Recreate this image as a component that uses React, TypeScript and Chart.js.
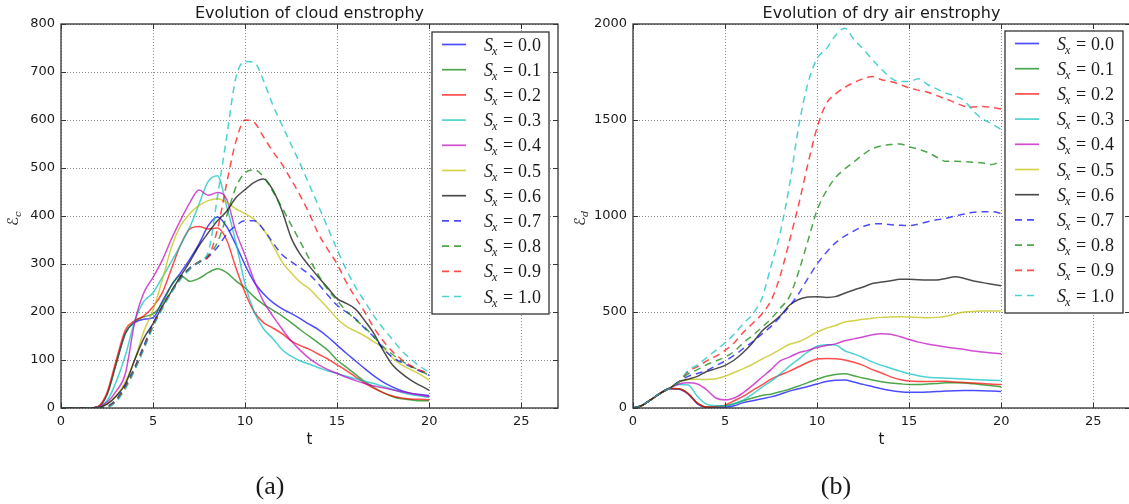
import React, { useEffect, useRef } from 'react';
import { Chart, registerables } from 'chart.js';

Chart.register(...registerables);

// Sample times (t = 0 … 20, step 0.5)
const times = [
  0, 0.5, 1, 1.5, 2, 2.5, 3, 3.5, 4, 4.5, 5, 5.5, 6, 6.5, 7, 7.5, 8, 8.5, 9, 9.5, 10,
  10.5, 11, 11.5, 12, 12.5, 13, 13.5, 14, 14.5, 15, 15.5, 16, 16.5, 17, 17.5, 18, 18.5, 19, 19.5, 20,
];

const xTickValues = [0, 5, 10, 15, 20, 25];
const cloudTickValues = [0, 100, 200, 300, 400, 500, 600, 700, 800];
const dryTickValues = [0, 500, 1000, 1500, 2000];

const shearValues = ['0.0', '0.1', '0.2', '0.3', '0.4', '0.5', '0.6', '0.7', '0.8', '0.9', '1.0'];

const lineColors = [
  'rgba(0,0,255,0.7)',
  'rgba(0,128,0,0.7)',
  'rgba(255,0,0,0.7)',
  'rgba(0,191,191,0.7)',
  'rgba(191,0,191,0.7)',
  'rgba(191,191,0,0.7)',
  'rgba(0,0,0,0.7)',
  'rgba(0,0,255,0.7)',
  'rgba(0,128,0,0.7)',
  'rgba(255,0,0,0.7)',
  'rgba(0,191,191,0.7)',
];

// Cloud enstrophy, one array per shear value
const cloudS00 = [0, 0, 0, 0, 2, 28, 93, 156, 178, 185, 188, 222, 256, 282, 310, 342, 380, 398, 378, 340, 298, 262, 238, 220, 207, 197, 186, 174, 163, 148, 131, 114, 98, 82, 67, 54, 44, 36, 31, 28, 26];
const cloudS01 = [0, 0, 0, 0, 2, 28, 92, 156, 180, 190, 196, 218, 255, 276, 264, 270, 282, 290, 282, 265, 250, 231, 216, 204, 192, 178, 163, 149, 135, 120, 100, 85, 70, 55, 43, 32, 24, 19, 17, 15, 15];
const cloudS02 = [0, 0, 0, 0, 3, 32, 100, 163, 182, 192, 211, 240, 290, 340, 373, 378, 373, 375, 350, 292, 240, 200, 178, 167, 155, 140, 130, 122, 112, 102, 90, 78, 65, 52, 41, 32, 25, 21, 19, 18, 17];
const cloudS03 = [0, 0, 0, 0, 2, 15, 55, 110, 180, 222, 240, 272, 305, 340, 377, 425, 472, 484, 420, 345, 258, 200, 165, 145, 122, 108, 98, 91, 84, 77, 72, 66, 61, 56, 51, 45, 39, 33, 28, 25, 22];
const cloudS04 = [0, 0, 0, 0, 2, 12, 35, 72, 178, 240, 272, 308, 352, 392, 428, 454, 443, 449, 435, 368, 318, 265, 222, 192, 165, 140, 120, 103, 90, 80, 72, 64, 57, 51, 46, 42, 38, 34, 30, 27, 24];
const cloudS05 = [0, 0, 0, 0, 1, 8, 25, 55, 100, 160, 204, 266, 335, 380, 405, 422, 432, 436, 428, 415, 405, 393, 372, 340, 305, 282, 262, 248, 228, 208, 186, 170, 160, 150, 138, 125, 105, 90, 80, 70, 58];
const cloudS06 = [0, 0, 0, 0, 1, 8, 25, 50, 100, 145, 176, 211, 243, 275, 305, 338, 365, 390, 410, 438, 455, 470, 477, 455, 412, 355, 320, 295, 272, 250, 228, 218, 206, 182, 155, 120, 90, 72, 58, 47, 37];
const cloudS07 = [0, 0, 0, 0, 0, 3, 18, 48, 85, 130, 176, 212, 244, 272, 292, 303, 315, 335, 362, 380, 390, 390, 372, 345, 320, 305, 292, 278, 258, 235, 214, 200, 186, 166, 148, 124, 106, 95, 86, 77, 68];
const cloudS08 = [0, 0, 0, 0, 0, 2, 16, 45, 82, 127, 173, 210, 243, 271, 291, 305, 318, 345, 400, 460, 490, 496, 482, 452, 418, 382, 346, 310, 276, 246, 224, 202, 184, 168, 148, 128, 112, 98, 87, 78, 68];
const cloudS09 = [0, 0, 0, 0, 0, 2, 15, 43, 80, 125, 171, 209, 242, 270, 290, 305, 315, 372, 468, 555, 600, 595, 565, 535, 508, 476, 442, 404, 362, 330, 300, 262, 230, 200, 167, 140, 118, 101, 88, 79, 72];
const cloudS10 = [0, 0, 0, 0, 0, 1, 13, 40, 78, 122, 168, 206, 240, 268, 289, 305, 325, 440, 565, 688, 722, 720, 682, 632, 590, 549, 508, 464, 420, 375, 330, 288, 252, 222, 192, 166, 143, 120, 102, 87, 74];

// Dry air enstrophy, one array per shear value
const dryS00 = [0, 14, 45, 78, 100, 98, 72, 22, 3, 2, 4, 12, 28, 38, 48, 58, 72, 88, 100, 112, 125, 138, 145, 146, 135, 123, 112, 100, 91, 85, 82, 82, 83, 86, 88, 90, 91, 91, 90, 88, 86];
const dryS01 = [0, 14, 45, 78, 101, 100, 75, 25, 5, 6, 12, 22, 38, 52, 65, 72, 85, 98, 115, 132, 150, 165, 175, 178, 168, 156, 146, 137, 130, 126, 122, 122, 125, 128, 131, 131, 130, 126, 121, 116, 111];
const dryS02 = [0, 14, 45, 78, 102, 100, 75, 25, 5, 8, 15, 38, 62, 92, 120, 150, 172, 192, 215, 238, 255, 258, 256, 250, 238, 222, 200, 182, 162, 148, 140, 138, 138, 139, 139, 136, 133, 130, 127, 124, 122];
const dryS03 = [0, 14, 45, 78, 104, 122, 120, 60, 20, 12, 12, 22, 42, 72, 108, 140, 178, 218, 255, 292, 322, 330, 328, 298, 282, 262, 240, 222, 207, 192, 178, 168, 160, 157, 155, 153, 151, 148, 146, 144, 143];
const dryS04 = [0, 14, 45, 78, 104, 125, 132, 125, 95, 52, 42, 52, 80, 118, 160, 200, 245, 265, 288, 300, 315, 326, 334, 350, 360, 370, 382, 387, 384, 372, 357, 343, 333, 325, 318, 311, 305, 297, 292, 287, 282];
const dryS05 = [0, 14, 45, 78, 104, 135, 148, 150, 148, 152, 165, 185, 205, 228, 255, 278, 305, 332, 345, 368, 395, 415, 430, 448, 455, 462, 468, 472, 474, 475, 474, 472, 470, 472, 478, 490, 500, 503, 505, 505, 505];
const dryS06 = [0, 14, 45, 78, 104, 137, 150, 165, 190, 205, 222, 250, 290, 340, 400, 440, 480, 535, 565, 578, 580, 576, 580, 598, 615, 630, 648, 656, 663, 670, 670, 668, 667, 667, 675, 683, 675, 662, 653, 645, 637];
const dryS07 = [0, 14, 45, 78, 104, 137, 165, 180, 195, 220, 245, 275, 310, 345, 385, 425, 475, 530, 595, 675, 750, 810, 860, 895, 922, 945, 958, 960, 955, 952, 950, 958, 970, 980, 988, 1000, 1010, 1019, 1022, 1022, 1014];
const dryS08 = [0, 14, 45, 78, 104, 137, 178, 200, 225, 245, 265, 295, 340, 378, 420, 465, 520, 580, 710, 870, 1030, 1130, 1200, 1245, 1282, 1320, 1350, 1365, 1372, 1375, 1361, 1348, 1332, 1306, 1285, 1285, 1283, 1280, 1276, 1268, 1285];
const dryS09 = [0, 14, 45, 78, 104, 137, 190, 215, 245, 270, 300, 340, 395, 440, 490, 560, 690, 870, 1060, 1270, 1460, 1585, 1635, 1670, 1695, 1715, 1726, 1710, 1700, 1685, 1667, 1655, 1645, 1627, 1610, 1590, 1572, 1568, 1570, 1565, 1557];
const dryS10 = [0, 14, 45, 78, 104, 137, 195, 225, 262, 300, 340, 385, 440, 490, 570, 740, 915, 1160, 1465, 1690, 1820, 1870, 1940, 1978, 1920, 1870, 1815, 1765, 1720, 1700, 1700, 1715, 1685, 1662, 1640, 1625, 1600, 1545, 1505, 1480, 1450];

const cloudSeries = [cloudS00, cloudS01, cloudS02, cloudS03, cloudS04, cloudS05, cloudS06, cloudS07, cloudS08, cloudS09, cloudS10];
const drySeries = [dryS00, dryS01, dryS02, dryS03, dryS04, dryS05, dryS06, dryS07, dryS08, dryS09, dryS10];

const AXIS_COLOR = '#333333';
const TEXT_COLOR = '#1a1a1a';
const DASH = [7, 5];
const LINE_WIDTH = 1.5;

type PanelSpec = {
  title: string;
  tag: string;
  tagX: number;
  yMax: number;
  yTicks: number[];
  yLabelSub: string;
  yLabelX: number;
  yAxisWidth: number;
  padRight: number;
  legendLeft: number;
  legendTop: number;
  legendWidth: number;
  legendHeight: number;
};

function buildDatasets(series: number[][]) {
  return series.map((vals, i) => ({
    label: 'S_x = ' + shearValues[i],
    data: vals.map((v, k) => ({ x: times[k], y: v })),
    borderColor: lineColors[i],
    borderWidth: LINE_WIDTH,
    borderDash: i >= 7 ? DASH : [],
    pointRadius: 0,
    fill: false,
    cubicInterpolationMode: 'monotone' as const,
    order: series.length - 1 - i,
  }));
}

function drawShearLabel(ctx: CanvasRenderingContext2D, x: number, cy: number, value: string) {
  const base = cy + 6;
  ctx.fillStyle = TEXT_COLOR;
  ctx.textAlign = 'left';
  ctx.textBaseline = 'alphabetic';
  ctx.font = 'italic 18px "Liberation Serif"';
  ctx.fillText('S', x, base);
  const sw = ctx.measureText('S').width;
  ctx.font = 'italic 12px "Liberation Serif"';
  ctx.fillText('x', x + sw - 1, base + 4);
  ctx.font = '18px "Liberation Serif"';
  ctx.fillText('=', x + 19, base);
  const [a, b] = value.split('.');
  ctx.fillText(a + '.', x + 34, base);
  ctx.fillText(b, x + 48, base);
}

function panelDecor(spec: PanelSpec) {
  return {
    id: 'panelDecor',
    afterDatasetsDraw(chart: Chart) {
      const { ctx, chartArea: a } = chart;
      const xs = chart.scales.x;
      const ys = chart.scales.y;
      ctx.save();

      // axes frame
      ctx.strokeStyle = AXIS_COLOR;
      ctx.lineWidth = 1.3;
      ctx.setLineDash([]);
      ctx.strokeRect(a.left, a.top, a.right - a.left, a.bottom - a.top);

      // inward tick marks on all four sides
      ctx.lineWidth = 1;
      ctx.beginPath();
      for (const v of xTickValues) {
        const px = Math.round(xs.getPixelForValue(v)) + 0.5;
        ctx.moveTo(px, a.bottom);
        ctx.lineTo(px, a.bottom - 5);
        ctx.moveTo(px, a.top);
        ctx.lineTo(px, a.top + 5);
      }
      for (const v of spec.yTicks) {
        const py = Math.round(ys.getPixelForValue(v)) + 0.5;
        ctx.moveTo(a.left, py);
        ctx.lineTo(a.left + 5, py);
        ctx.moveTo(a.right, py);
        ctx.lineTo(a.right - 5, py);
      }
      ctx.stroke();

      // legend box
      const L = spec.legendLeft;
      const T = spec.legendTop;
      ctx.fillStyle = '#ffffff';
      ctx.fillRect(L, T, spec.legendWidth, spec.legendHeight);
      ctx.strokeStyle = AXIS_COLOR;
      ctx.lineWidth = 1.3;
      ctx.strokeRect(L, T, spec.legendWidth, spec.legendHeight);
      chart.data.datasets.forEach((ds: any, i: number) => {
        const cy = T + 12.5 + 25.2 * i;
        ctx.strokeStyle = ds.borderColor;
        ctx.lineWidth = 1.7;
        ctx.setLineDash(ds.borderDash || []);
        ctx.beginPath();
        ctx.moveTo(L + 10, cy);
        ctx.lineTo(L + 34, cy);
        ctx.stroke();
        ctx.setLineDash([]);
        drawShearLabel(ctx, L + 52, cy, shearValues[i]);
      });

      // title
      ctx.fillStyle = TEXT_COLOR;
      ctx.font = '16px "DejaVu Sans"';
      ctx.textAlign = 'center';
      ctx.textBaseline = 'alphabetic';
      const cx = (a.left + a.right) / 2;
      ctx.fillText(spec.title, cx, 18);

      // x label
      ctx.font = '15px "DejaVu Sans"';
      ctx.fillText('t', cx, 444);

      // y label: script E with subscript, rotated
      ctx.save();
      ctx.translate(spec.yLabelX, (a.top + a.bottom) / 2 + 4);
      ctx.rotate(-Math.PI / 2);
      ctx.textAlign = 'left';
      ctx.font = '15px "DejaVu Serif", "DejaVu Sans"';
      ctx.fillText('\u2130', -6, 0);
      const ew = ctx.measureText('\u2130').width;
      ctx.font = 'italic 10px "DejaVu Serif"';
      ctx.fillText(spec.yLabelSub, -6 + ew, 3);
      ctx.restore();

      // panel tag
      ctx.font = '26px "Liberation Serif"';
      ctx.textAlign = 'center';
      ctx.fillText(spec.tag, spec.tagX, 494);

      ctx.restore();
    },
  };
}

function makeChart(canvas: HTMLCanvasElement, series: number[][], spec: PanelSpec) {
  const gridStyle = {
    color: 'rgba(0,0,0,0.45)',
    lineWidth: 1,
    drawTicks: false,
  };
  const tickFont = { family: 'DejaVu Sans', size: 13 };
  return new Chart(canvas, {
    type: 'line',
    data: { datasets: buildDatasets(series) as any },
    options: {
      responsive: false,
      animation: false,
      events: [],
      layout: { padding: { left: 0, right: spec.padRight, top: 24, bottom: 0 } },
      plugins: {
        legend: { display: false },
        title: { display: false },
        tooltip: { enabled: false },
      },
      scales: {
        x: {
          type: 'linear',
          min: 0,
          max: 27,
          afterBuildTicks: (s: any) => {
            s.ticks = xTickValues.map((value) => ({ value }));
          },
          afterFit: (s: any) => {
            s.height = 96;
          },
          grid: gridStyle,
          border: { display: false, dash: [1, 2] },
          ticks: {
            color: TEXT_COLOR,
            font: tickFont,
            padding: 6,
            maxRotation: 0,
            callback: (v: any) => String(v),
          },
        },
        y: {
          type: 'linear',
          min: 0,
          max: spec.yMax,
          afterBuildTicks: (s: any) => {
            s.ticks = spec.yTicks.map((value) => ({ value }));
          },
          afterFit: (s: any) => {
            s.width = spec.yAxisWidth;
          },
          grid: gridStyle,
          border: { display: false, dash: [1, 2] },
          ticks: {
            color: TEXT_COLOR,
            font: tickFont,
            padding: 6,
            callback: (v: any) => String(v),
          },
        },
      },
    },
    plugins: [panelDecor(spec)],
  });
}

const cloudSpec: PanelSpec = {
  title: 'Evolution of cloud enstrophy',
  tag: '(a)',
  tagX: 270,
  yMax: 800,
  yTicks: cloudTickValues,
  yLabelSub: 'c',
  yLabelX: 18,
  yAxisWidth: 61,
  padRight: 6,
  legendLeft: 432,
  legendTop: 32,
  legendWidth: 117,
  legendHeight: 282,
};

const drySpec: PanelSpec = {
  title: 'Evolution of dry air enstrophy',
  tag: '(b)',
  tagX: 270,
  yMax: 2000,
  yTicks: dryTickValues,
  yLabelSub: 'd',
  yLabelX: 19,
  yAxisWidth: 67,
  padRight: 6,
  legendLeft: 439,
  legendTop: 31,
  legendWidth: 118,
  legendHeight: 282,
};

export default function App() {
  const leftRef = useRef<HTMLCanvasElement | null>(null);
  const rightRef = useRef<HTMLCanvasElement | null>(null);

  useEffect(() => {
    if (!leftRef.current || !rightRef.current) return;
    const left = makeChart(leftRef.current, cloudSeries, cloudSpec);
    const right = makeChart(rightRef.current, drySeries, drySpec);
    return () => {
      left.destroy();
      right.destroy();
    };
  }, []);

  return (
    <div
      style={{
        position: 'fixed',
        left: 0,
        top: 0,
        width: 1129,
        height: 504,
        overflow: 'hidden',
        background: '#ffffff',
      }}
    >
      <canvas ref={leftRef} width={564} height={504} style={{ position: 'absolute', left: 0, top: 0 }} />
      <canvas ref={rightRef} width={570} height={504} style={{ position: 'absolute', left: 566, top: 0 }} />
    </div>
  );
}
